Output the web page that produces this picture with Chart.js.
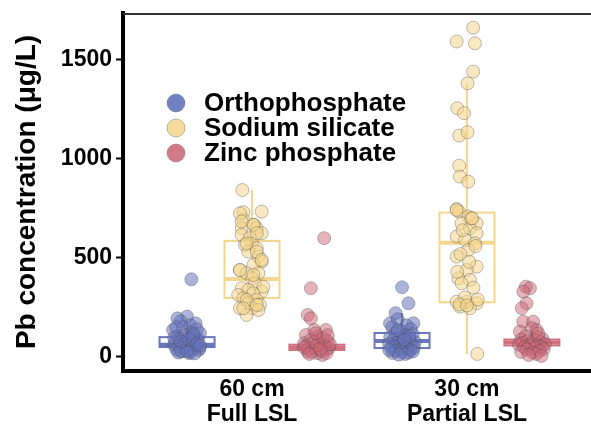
<!DOCTYPE html>
<html>
<head>
<meta charset="utf-8">
<script src="https://cdn.jsdelivr.net/npm/chart.js@4.4.0/dist/chart.umd.min.js"></script>
<style>
  html, body { margin: 0; padding: 0; background: #fff; }
</style>
</head>
<body>
<canvas id="leadChart" width="591" height="431"></canvas>
<script>
// --- Data ---
const categories = [['60 cm', 'Full LSL'], ['30 cm', 'Partial LSL']];
const treatments = ['Orthophosphate', 'Sodium silicate', 'Zinc phosphate'];
const yTicks = [0, 500, 1000, 1500];

// box stats per category: [whiskerLow, Q1, median, Q3, whiskerHigh]
const orthoBox    = [[15, 50, 62, 100, 170], [12, 45, 81, 121, 221]];
const silicateBox = [[212, 298, 394, 586, 843], [15, 276, 577, 729, 1382]];
const zincBox     = [[5, 35, 48, 62, 120], [5, 58, 73, 88, 142]];

// jittered points: [x jitter (category units), concentration]
const orthoFull = [
  [0.02,392],[0.0,204],[-0.045,195],[0.04,170],[-0.065,136],[-0.02,153],[0.02,128],[-0.045,103],
  [0.05,94],[-0.012,69],[-0.06,61],[0.035,52],[-0.028,27],[0.01,19],[0.058,44],[0.06,120],
  [-0.03,180],[0.015,160],[-0.05,150],[0.045,140],[-0.01,110],[0.025,100],[-0.035,90],[0.0,85],
  [0.05,80],[-0.055,75],[0.03,70],[-0.02,65],[0.01,60],[-0.04,55],[0.04,50],[-0.015,45],
  [0.02,40],[-0.05,38],[0.055,35],[-0.025,30],[0.015,25],[-0.04,22],[0.035,18],[0.0,30],
  [0.03,115],[-0.06,98],[0.01,88],[-0.03,78],[0.045,66],[0.06,58]
];
const orthoPartial = [
  [0.0,352],[0.03,271],[-0.03,221],[0.053,170],[-0.056,170],[-0.02,190],[0.02,160],[-0.045,150],
  [0.04,140],[0.0,130],[-0.03,120],[0.05,115],[0.015,110],[-0.055,100],[-0.01,95],[0.035,90],
  [-0.04,85],[0.005,80],[0.06,75],[-0.025,72],[0.025,68],[-0.06,65],[0.045,60],[-0.015,58],
  [0.01,55],[-0.035,50],[0.055,48],[-0.05,45],[0.02,42],[-0.005,38],[0.04,35],[-0.03,30],
  [0.0,25],[0.03,22],[-0.045,20],[0.015,15],[-0.015,12],[0.05,28],[-0.06,35],[0.035,105],
  [-0.02,135],[0.01,88]
];
const silicateFull = [
  [-0.045,843],[0.045,734],[-0.04,731],[-0.04,692],[0.01,667],[-0.048,650],[0.022,650],[0.045,625],
  [-0.048,616],[-0.01,600],[0.0,574],[-0.033,566],[0.022,549],[-0.017,532],[0.03,507],[0.045,481],
  [0.006,465],[-0.056,439],[-0.025,423],[0.03,423],[0.0,397],[0.014,372],[-0.048,347],[-0.017,338],
  [0.045,330],[0.006,322],[-0.064,313],[-0.04,296],[0.022,288],[-0.017,271],[0.037,263],[-0.056,246],
  [0.0,246],[-0.025,212],[0.03,237],[-0.056,725],[-0.048,684],[0.006,667],[0.022,625],[-0.025,574],
  [0.022,532],[0.045,490],[-0.056,439],[0.006,414],[0.053,355],[-0.025,288],[0.022,263],[-0.04,246]
];
const silicatePartial = [
  [0.029,1663],[-0.048,1593],[0.037,1584],[0.029,1441],[0.003,1382],[-0.045,1256],[-0.014,1231],[-0.036,1118],
  [0.003,1135],[-0.036,966],[-0.033,911],[0.006,885],[-0.048,747],[-0.037,734],[0.006,709],[0.045,675],
  [-0.025,675],[0.014,650],[0.045,625],[-0.048,608],[-0.009,591],[0.037,574],[0.006,540],[-0.048,507],
  [0.045,456],[-0.001,439],[-0.04,397],[0.014,389],[-0.025,372],[-0.048,279],[-0.001,279],[0.045,271],
  [-0.033,254],[0.014,246],[0.048,15],[-0.048,742],[0.02,700],[-0.02,640],[0.04,560],[-0.03,520],
  [0.01,480],[-0.045,430],[0.03,350],[-0.01,300],[0.05,290],[-0.035,265],[0.0,260],[0.025,700]
];
const zincFull = [
  [0.034,600],[-0.028,347],[-0.043,212],[-0.028,195],[-0.012,136],[0.042,136],[-0.051,111],[0.003,103],
  [-0.059,69],[0.019,69],[-0.02,44],[0.042,35],[-0.043,27],[0.003,19],[0.026,10],[0.05,80],
  [-0.03,85],[0.01,90],[-0.05,55],[0.035,58],[-0.01,50],[0.055,45],[-0.04,40],[0.02,30],
  [-0.025,25],[0.045,20],[0.0,60],[-0.015,75],[0.03,95],[-0.06,48],[0.06,65],[0.015,40],
  [-0.035,15],[0.05,110],[-0.005,120]
];
const zincPartial = [
  [-0.028,355],[-0.009,347],[-0.04,330],[-0.025,271],[-0.047,246],[-0.04,178],[0.006,178],[-0.056,128],
  [0.0,145],[0.022,136],[-0.03,105],[0.03,100],[0.05,90],[-0.05,88],[0.01,85],[-0.02,80],
  [0.04,75],[-0.045,70],[0.0,68],[0.06,65],[-0.06,62],[0.025,58],[-0.01,55],[0.045,50],
  [-0.035,48],[0.015,45],[0.055,40],[-0.025,38],[0.035,30],[-0.05,25],[0.005,22],[0.02,15],
  [-0.015,10],[0.045,5],[0.03,118]
];

// --- Styling ---
const pointFill  = ['rgba(102,116,190,0.55)', 'rgba(244,213,140,0.55)', 'rgba(206,104,120,0.5)'];
const boxColors  = ['#6a78bb', '#f4d68f', '#d27181'];
const legendFill = ['#7180c3', '#f5db9c', '#d27a87'];
const dodge = [-0.302, 0, 0.302];
const boxHalf = 0.128;
const fontFam = '"Liberation Sans", Arial, sans-serif';

const boxStats = [orthoBox, silicateBox, zincBox];
const pointSets = [[orthoFull, orthoPartial], [silicateFull, silicatePartial], [zincFull, zincPartial]];

const datasets = treatments.map((name, i) => ({
  label: name,
  data: pointSets[i].flatMap((pts, c) => pts.map(([j, v]) => ({ x: c + 1 + dodge[i] + j, y: v }))),
  backgroundColor: pointFill[i],
  borderColor: 'rgba(70,70,70,0.45)',
  borderWidth: 0.8,
  pointRadius: 6.5,
  pointHoverRadius: 6.5
}));

// boxes + whiskers drawn behind the points
const boxPlugin = {
  id: 'boxes',
  beforeDatasetsDraw(chart) {
    const { ctx, scales: { x, y } } = chart;
    ctx.save();
    boxStats.forEach((stats, i) => {
      stats.forEach((s, c) => {
        const cx = c + 1 + dodge[i];
        const l = x.getPixelForValue(cx - boxHalf);
        const r = x.getPixelForValue(cx + boxHalf);
        const m = x.getPixelForValue(cx);
        const [lo, q1, med, q3, hi] = s.map(v => y.getPixelForValue(v));
        ctx.strokeStyle = boxColors[i];
        ctx.lineWidth = 2;
        ctx.beginPath();
        ctx.moveTo(m, q3); ctx.lineTo(m, hi);
        ctx.moveTo(m, q1); ctx.lineTo(m, lo);
        ctx.stroke();
        ctx.fillStyle = '#fff';
        ctx.fillRect(l, q3, r - l, q1 - q3);
        ctx.strokeRect(l, q3, r - l, q1 - q3);
        ctx.lineWidth = 4;
        ctx.beginPath();
        ctx.moveTo(l, med); ctx.lineTo(r, med);
        ctx.stroke();
      });
    });
    ctx.restore();
  }
};

// top frame line + legend inside the panel
const framePlugin = {
  id: 'frame',
  afterDraw(chart) {
    const { ctx, chartArea: a } = chart;
    ctx.save();
    ctx.strokeStyle = '#333';
    ctx.lineWidth = 2;
    ctx.beginPath();
    ctx.moveTo(a.left, a.top + 1); ctx.lineTo(a.right, a.top + 1);
    ctx.stroke();
    ctx.font = 'bold 26px ' + fontFam;
    ctx.textBaseline = 'middle';
    treatments.forEach((name, i) => {
      const yy = 103 + i * 25;
      ctx.beginPath();
      ctx.arc(176, yy, 9, 0, Math.PI * 2);
      ctx.fillStyle = legendFill[i];
      ctx.fill();
      ctx.strokeStyle = 'rgba(90,90,90,0.5)';
      ctx.lineWidth = 0.8;
      ctx.stroke();
      ctx.fillStyle = '#000';
      ctx.fillText(name, 204, yy + 1);
    });
    ctx.restore();
  }
};

new Chart(document.getElementById('leadChart'), {
  type: 'scatter',
  data: { datasets },
  options: {
    responsive: false,
    animation: false,
    layout: { autoPadding: false, padding: { top: 13, right: 0, left: 0, bottom: 0 } },
    plugins: { legend: { display: false }, tooltip: { enabled: false } },
    scales: {
      x: {
        type: 'linear',
        min: 0.4,
        max: 2.577,
        afterFit: s => { s.height = 60; s.paddingLeft = 0; s.paddingRight = 0; },
        afterBuildTicks: s => { s.ticks = categories.map((_, i) => ({ value: i + 1 })); },
        ticks: {
          callback: v => categories[v - 1],
          color: '#000',
          font: { family: fontFam, size: 23, weight: 'bold', lineHeight: 1.05 },
          padding: 3,
          maxRotation: 0
        },
        grid: { drawOnChartArea: false, drawTicks: true, tickLength: 4, color: 'rgba(0,0,0,0)' },
        border: { color: '#000', width: 4 }
      },
      y: {
        min: -71,
        max: 1737,
        afterFit: s => { s.width = 123; s.paddingTop = 0; s.paddingBottom = 0; },
        afterBuildTicks: s => { s.ticks = yTicks.map(v => ({ value: v })); },
        ticks: {
          callback: v => String(v),
          color: '#000',
          font: { family: fontFam, size: 23, weight: 'bold' },
          padding: 4
        },
        grid: { drawOnChartArea: false, drawTicks: true, tickLength: 7, tickWidth: 2, tickColor: '#000' },
        border: { color: '#000', width: 4 },
        title: {
          display: true,
          text: 'Pb concentration (μg/L)',
          color: '#000',
          font: { family: fontFam, size: 28, weight: 'bold' },
          padding: { top: 10, bottom: 0 }
        }
      }
    }
  },
  plugins: [boxPlugin, framePlugin]
});
</script>
</body>
</html>
